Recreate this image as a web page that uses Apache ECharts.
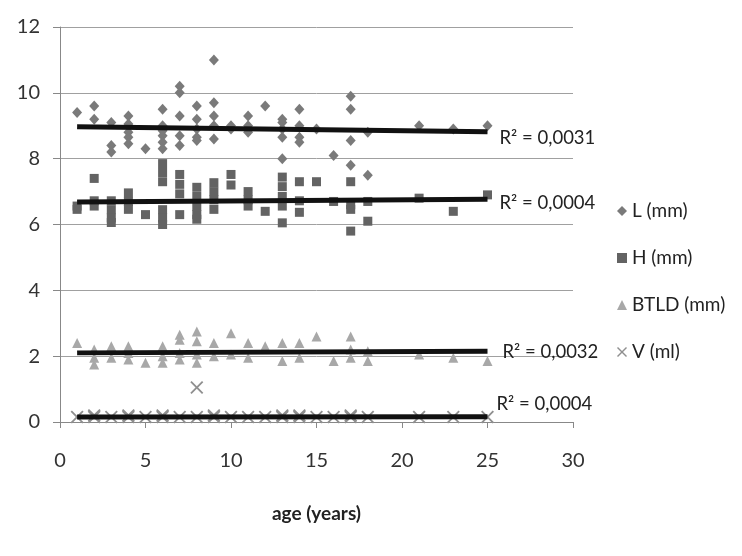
<!DOCTYPE html>
<html>
<head>
<meta charset="utf-8">
<script src="https://cdn.jsdelivr.net/npm/echarts@6/dist/echarts.min.js"></script>
<style>
  html, body { margin: 0; padding: 0; background: #fff; }
  #main { width: 742px; height: 556px; }
</style>
</head>
<body>
<div id="main"></div>
<script>
// values: [age, value]
var lPoints = [
  [1, 9.4], [2, 9.6], [2, 9.2], [3, 9.1], [3, 8.4], [3, 8.2],
  [4, 9.3], [4, 9.05], [4, 8.8], [4, 8.65], [4, 8.45], [5, 8.3],
  [6, 9.5], [6, 9.0], [6, 8.85], [6, 8.7], [6, 8.5], [6, 8.3],
  [7, 10.2], [7, 10.0], [7, 9.3], [7, 8.7], [7, 8.4],
  [8, 9.6], [8, 9.2], [8, 8.9], [8, 8.65], [8, 8.55],
  [9, 11.0], [9, 9.7], [9, 9.3], [9, 9.0], [9, 8.6],
  [10, 9.0], [10, 8.9], [11, 9.3], [11, 9.0], [11, 8.8], [12, 9.6],
  [13, 9.2], [13, 9.1], [13, 8.9], [13, 8.65], [13, 8.0],
  [14, 9.5], [14, 9.0], [14, 8.65], [14, 8.5], [15, 8.9], [16, 8.1],
  [17, 9.9], [17, 9.5], [17, 8.55], [17, 7.8], [18, 8.8], [18, 7.5],
  [21, 9.0], [23, 8.9], [25, 9.0]
]
var hPoints = [
  [1, 6.56], [1, 6.46], [2, 7.4], [2, 6.72], [2, 6.56],
  [3, 6.72], [3, 6.45], [3, 6.2], [3, 6.06], [4, 6.96], [4, 6.7], [4, 6.46],
  [5, 6.3], [6, 7.85], [6, 7.58], [6, 7.3], [6, 6.45], [6, 6.2], [6, 6.0],
  [7, 7.52], [7, 7.22], [7, 6.93], [7, 6.3],
  [8, 7.13], [8, 6.85], [8, 6.55], [8, 6.3], [8, 6.16],
  [9, 7.27], [9, 7.0], [9, 6.75], [9, 6.46], [10, 7.52], [10, 7.2],
  [11, 7.0], [11, 6.75], [11, 6.56], [12, 6.4],
  [13, 7.44], [13, 7.15], [13, 6.85], [13, 6.56], [13, 6.05],
  [14, 7.3], [14, 6.72], [14, 6.37], [15, 7.3], [16, 6.7],
  [17, 7.3], [17, 6.6], [17, 6.46], [17, 5.8], [18, 6.7], [18, 6.1],
  [21, 6.8], [23, 6.4], [25, 6.9]
]
var btldPoints = [
  [1, 2.4], [2, 2.2], [2, 1.95], [2, 1.75], [3, 2.3], [3, 1.95],
  [4, 2.3], [4, 2.1], [4, 1.9], [5, 1.8], [6, 2.3], [6, 2.0], [6, 1.8],
  [7, 2.65], [7, 2.5], [7, 2.1], [7, 1.9], [8, 2.75], [8, 2.45], [8, 2.05], [8, 1.8],
  [9, 2.4], [9, 2.0], [10, 2.7], [10, 2.05], [11, 2.4], [11, 1.95], [12, 2.3],
  [13, 2.4], [13, 1.85], [14, 2.4], [14, 1.95], [15, 2.6], [16, 1.85],
  [17, 2.6], [17, 2.2], [17, 1.95], [18, 2.15], [18, 1.85],
  [21, 2.05], [23, 1.95], [25, 1.85]
]
var vPoints = [
  [1, 0.15], [2, 0.15], [2, 0.2], [3, 0.15], [4, 0.15], [4, 0.2], [5, 0.15],
  [6, 0.15], [6, 0.2], [7, 0.15], [8, 0.15], [8, 1.05], [9, 0.15], [9, 0.2],
  [10, 0.15], [11, 0.15], [12, 0.15], [13, 0.15], [13, 0.2], [14, 0.15], [14, 0.2],
  [15, 0.15], [16, 0.15], [17, 0.15], [17, 0.2], [18, 0.15],
  [21, 0.15], [23, 0.15], [25, 0.15]
]
// linear trend lines, ends
var trendL = [[1, 8.97], [25, 8.82]]
var trendH = [[1, 6.68], [25, 6.77]]
var trendBtld = [[1, 2.1], [25, 2.15]]
var trendV = [[1, 0.15], [25, 0.16]]
var r2Labels = ['R² = 0,0031', 'R² = 0,0004', 'R² = 0,0032', 'R² = 0,0004']
var seriesNames = ['L (mm)', 'H (mm)', 'BTLD (mm)', 'V (ml)']

var crossPath = 'path://M0,1L1,0L5,4L9,0L10,1L6,5L10,9L9,10L5,6L1,10L0,9L4,5Z'
var font = 'Lato, "Open Sans", sans-serif'

function trend (data, text, offset) {
  return {
    type: 'line',
    data: data,
    symbol: 'none',
    silent: true,
    z: 5,
    lineStyle: { color: '#111', width: 5 },
    endLabel: {
      show: true,
      formatter: text,
      offset: offset,
      color: '#222',
      fontSize: 18.5,
      fontFamily: font
    }
  }
}

var chart = echarts.init(document.getElementById('main'))
chart.setOption({
  animation: false,
  backgroundColor: '#fff',
  grid: { left: 60, top: 27, right: 169, bottom: 134 },
  legend: {
    orient: 'vertical',
    left: 612,
    top: 195,
    itemWidth: 10,
    itemHeight: 10,
    itemGap: 25,
    textStyle: { color: '#222', fontSize: 19, fontFamily: font, lineHeight: 22 },
    data: [
      { name: seriesNames[0], icon: 'diamond' },
      { name: seriesNames[1], icon: 'rect' },
      { name: seriesNames[2], icon: 'triangle' },
      { name: seriesNames[3], icon: crossPath }
    ]
  },
  xAxis: {
    type: 'value',
    min: 0,
    max: 30,
    interval: 5,
    name: 'age (years)',
    nameLocation: 'middle',
    nameGap: 82,
    nameTextStyle: { color: '#222', fontSize: 19, fontWeight: 'bold', fontFamily: font },
    axisLine: { lineStyle: { color: '#888' } },
    axisTick: { show: true, length: 6, lineStyle: { color: '#888' } },
    axisLabel: { color: '#333', fontSize: 20, fontFamily: font, margin: 29 },
    splitLine: { show: false }
  },
  yAxis: {
    type: 'value',
    min: 0,
    max: 12,
    interval: 2,
    axisLine: { show: true, lineStyle: { color: '#888' } },
    axisTick: { show: true, length: 7, lineStyle: { color: '#888' } },
    axisLabel: { color: '#333', fontSize: 20, fontFamily: font, margin: 20 },
    splitLine: { lineStyle: { color: '#a0a0a0', width: 1 } }
  },
  series: [
    {
      name: seriesNames[0],
      type: 'scatter',
      data: lPoints,
      symbol: 'diamond',
      symbolSize: [10, 11],
      itemStyle: { color: '#7a7a7a', opacity: 1 }
    },
    {
      name: seriesNames[1],
      type: 'scatter',
      data: hPoints,
      symbol: 'rect',
      symbolSize: 9,
      itemStyle: { color: '#636363', opacity: 1 }
    },
    {
      name: seriesNames[2],
      type: 'scatter',
      data: btldPoints,
      symbol: 'triangle',
      symbolSize: 10,
      itemStyle: { color: '#a8a8a8', opacity: 1 }
    },
    {
      name: seriesNames[3],
      type: 'scatter',
      data: vPoints,
      symbol: crossPath,
      symbolSize: 13,
      itemStyle: { color: '#8f8f8f', opacity: 1 }
    },
    trend(trendL, r2Labels[0], [4, 6]),
    trend(trendH, r2Labels[1], [4, 4]),
    trend(trendBtld, r2Labels[2], [7, 1]),
    trend(trendV, r2Labels[3], [1, -13])
  ]
})
</script>
</body>
</html>
